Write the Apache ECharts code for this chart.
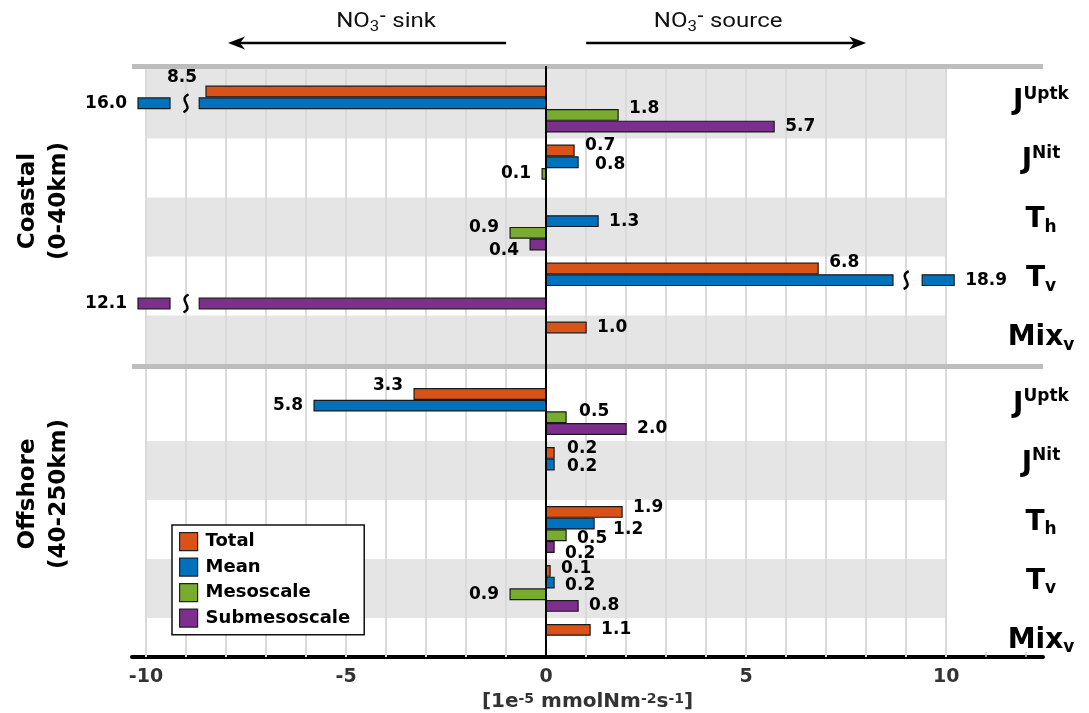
<!DOCTYPE html>
<html>
<head>
<meta charset="utf-8">
<title>NO3 budget terms</title>
<script src="https://cdn.jsdelivr.net/npm/echarts@6/dist/echarts.min.js"></script>
<style>
  html, body { margin: 0; padding: 0; background: #fff; }
  #chart { width: 1089px; height: 713px; }
</style>
</head>
<body>
<div id="chart"></div>
<script>
const components = ['Total', 'Mean', 'Mesoscale', 'Submesoscale']
const terms = ['J^Uptk', 'J^Nit', 'T_h', 'T_v', 'Mix_v']

// values in 1e-5 mmolN m-2 s-1, null = no bar drawn
const coastalTotal = [-8.5, 0.7, null, 6.8, 1.0]
const coastalMean = [-16.0, 0.8, 1.3, 18.9, null]
const coastalMeso = [1.8, -0.1, -0.9, null, null]
const coastalSubmeso = [5.7, null, -0.4, -12.1, null]

const offshoreTotal = [-3.3, 0.2, 1.9, 0.1, 1.1]
const offshoreMean = [-5.8, 0.2, 1.2, 0.2, null]
const offshoreMeso = [0.5, null, 0.5, -0.9, null]
const offshoreSubmeso = [2.0, null, 0.2, 0.8, null]

const xTickValues = [-10, -5, 0, 5, 10]

const colors = ['#D95319', '#0072BD', '#77AC30', '#7E2F8E']
const font = 'DejaVu Sans'

// axis layout, in axis units
const xMin = -10.35
const xMax = 12.42
const yMin = -0.73
const yMax = 9.29
const panelGap = 0.127
const panelSep = 4.36
const slotSize = 0.198
const axisLimit = 10
const breakAt = 8.67
const squiggleAt = 9.0
const stubFrom = 9.4
const stubTo = 10.2
const labelGap = 11

// hand placement of some value labels (series,group) -> [dx, dy] px
const labelNudge = {
  '0,0': [2, -14],
  '2,0': [0, -6],
  '0,1': [0, -5],
  '1,1': [6, 2],
  '2,2': [0, -5],
  '3,2': [0, 6],
  '0,3': [0, -6],
  '0,5': [0, -8],
  '2,5': [2, -6],
  '0,6': [2, -4],
  '1,6': [2, 2],
  '0,7': [0, -4],
  '1,7': [8, 6],
  '2,7': [0, 3],
  '3,7': [0, 7],
  '0,8': [0, -2],
  '1,8': [0, 3],
}

const coastal = [coastalTotal, coastalMean, coastalMeso, coastalSubmeso]
const offshore = [offshoreTotal, offshoreMean, offshoreMeso, offshoreSubmeso]

const groupPos = (g) => (g < 5 ? g : g + panelGap)
const allPos = Array.from({ length: 10 }, (_, g) => groupPos(g))

const termRich = (t) => {
  if (t.includes('^')) {
    const [a, b] = t.split('^')
    return `{m|${a}}{sup|${b}}`
  }
  const [a, b] = t.split('_')
  return `{m|${a}}{sub|${b}}`
}

const makeRender = (k) => (params, api) => {
  const v = api.value(0)
  const pos = api.value(1)
  const g = api.value(2)
  const base = api.coord([0, pos])
  const slot = api.size([0, slotSize])[1]
  const cy = base[1] + (k - 1.5) * slot
  const h = slot - 1
  const sign = v < 0 ? -1 : 1
  const barStyle = { fill: colors[k], stroke: '#1a1a1a', lineWidth: 1.2 }
  const rect = (xa, xb) => ({
    type: 'rect',
    shape: { x: Math.min(xa, xb), y: cy - h / 2, width: Math.abs(xb - xa), height: h },
    style: barStyle,
  })
  const children = []
  let end
  if (Math.abs(v) <= axisLimit) {
    end = api.coord([v, pos])[0]
    children.push(rect(base[0], end))
  } else {
    // broken bar: main part, squiggle, short stub
    children.push(rect(base[0], api.coord([sign * breakAt, pos])[0]))
    const sx = api.coord([sign * squiggleAt, pos])[0]
    children.push({
      type: 'bezierCurve',
      z2: 10,
      shape: {
        x1: sx + 2.5, y1: cy - 9,
        cpx1: sx - 9, cpy1: cy - 3,
        cpx2: sx + 9, cpy2: cy + 3,
        x2: sx - 2.5, y2: cy + 9,
      },
      style: { stroke: '#000', lineWidth: 2.4, fill: 'none' },
    })
    const s0 = api.coord([sign * stubFrom, pos])[0]
    end = api.coord([sign * stubTo, pos])[0]
    children.push(rect(s0, end))
  }
  const nudge = labelNudge[k + ',' + g] || [0, 0]
  children.push({
    type: 'text',
    x: end + sign * labelGap + nudge[0],
    y: cy + nudge[1],
    style: {
      text: Math.abs(v).toFixed(1),
      fontSize: 17,
      fontWeight: 'bold',
      fontFamily: font,
      fill: '#000',
      align: sign > 0 ? 'left' : 'right',
      verticalAlign: 'middle',
    },
  })
  return { type: 'group', children }
}

const barSeries = components.map((name, k) => {
  const data = []
  ;[coastal[k], offshore[k]].forEach((arr, p) => {
    arr.forEach((v, i) => {
      if (v === null) return
      const g = p * 5 + i
      data.push([v, groupPos(g), g])
    })
  })
  return {
    name,
    type: 'custom',
    z: 3,
    itemStyle: { color: colors[k], borderColor: '#1a1a1a', borderWidth: 1 },
    encode: { x: 0, y: 1 },
    renderItem: makeRender(k),
    data,
  }
})

const grayGroups = [0, 2, 4, 6, 8]
const bandData = grayGroups.map((g) => {
  let lo = groupPos(g) - 0.5
  let hi = groupPos(g) + 0.5
  if (g === 0) lo = yMin
  if (g === 4) hi = panelSep
  return [{ xAxis: -10, yAxis: lo }, { xAxis: 10, yAxis: hi }]
})

const gridLines = []
for (let x = -10; x <= 10; x++) gridLines.push({ xAxis: x })

const minorTicks = []
for (let x = -10; x <= 12; x++) minorTicks.push(x)

const chart = echarts.init(document.getElementById('chart'))

chart.setOption({
  animation: false,
  backgroundColor: '#fff',
  grid: { left: 132, right: 46, top: 66, bottom: 56, outerBoundsMode: 'none', containLabel: false },
  xAxis: {
    type: 'value',
    min: xMin,
    max: xMax,
    axisLine: { onZero: false, lineStyle: { color: '#000', width: 4 } },
    axisTick: {
      show: true,
      inside: true,
      length: 5,
      customValues: minorTicks,
      lineStyle: { color: '#c8c8c8', width: 1.5 },
    },
    splitLine: { show: false },
    axisLabel: {
      customValues: xTickValues,
      fontSize: 19,
      fontWeight: 'bold',
      fontFamily: font,
      color: '#333',
      margin: 11,
    },
    name: '[1e{sup|-5} mmolNm{sup|-2}s{sup|-1}]',
    nameLocation: 'middle',
    nameGap: 34,
    nameTextStyle: {
      fontSize: 20,
      fontWeight: 'bold',
      fontFamily: font,
      color: '#333',
      rich: {
        sup: { fontSize: 14, fontWeight: 'bold', fontFamily: font, color: '#333', lineHeight: 16, verticalAlign: 'top' },
      },
    },
  },
  yAxis: {
    type: 'value',
    min: yMin,
    max: yMax,
    inverse: true,
    position: 'right',
    axisLine: { show: false },
    axisTick: { show: false },
    splitLine: { show: false },
    axisLabel: {
      customValues: allPos,
      margin: -2,
      align: 'center',
      padding: [0, 0, 14, 0],
      formatter: (val) => {
        const g = allPos.findIndex((p) => Math.abs(p - val) < 1e-6)
        return g < 0 ? '' : termRich(terms[g % 5])
      },
      rich: {
        m: { fontSize: 28, fontWeight: 'bold', fontFamily: font, color: '#000', lineHeight: 32, verticalAlign: 'middle' },
        sup: { fontSize: 17, fontWeight: 'bold', fontFamily: font, color: '#000', lineHeight: 23, verticalAlign: 'top' },
        sub: { fontSize: 17, fontWeight: 'bold', fontFamily: font, color: '#000', lineHeight: 10, verticalAlign: 'bottom' },
      },
    },
  },
  legend: {
    data: components,
    orient: 'vertical',
    left: 172,
    top: 525,
    icon: 'rect',
    itemWidth: 18,
    itemHeight: 18,
    itemGap: 6.3,
    padding: [7, 14, 7, 7],
    backgroundColor: '#fff',
    borderColor: '#111',
    borderWidth: 1.5,
    selectedMode: false,
    itemStyle: { borderColor: '#222', borderWidth: 1.2 },
    textStyle: { fontSize: 18, fontWeight: 'bold', fontFamily: font, color: '#000', padding: [0, 0, 0, 3] },
  },
  series: [
    {
      name: 'background',
      type: 'custom',
      z: 1,
      silent: true,
      renderItem: () => null,
      data: [[0, 0]],
      markArea: {
        silent: true,
        z: 1,
        itemStyle: { color: '#e5e5e5' },
        data: bandData,
      },
      markLine: {
        silent: true,
        z: 2,
        symbol: ['none', 'none'],
        label: { show: false },
        lineStyle: { color: '#dadada', width: 2, type: 'solid' },
        data: gridLines,
      },
    },
    ...barSeries,
    {
      name: 'frame',
      type: 'custom',
      z: 5,
      silent: true,
      renderItem: () => null,
      data: [[0, 0]],
      markLine: {
        silent: true,
        z: 5,
        symbol: ['none', 'none'],
        label: { show: false },
        data: [
          { yAxis: yMin, lineStyle: { color: '#bdbdbd', width: 5, type: 'solid' } },
          { yAxis: panelSep, lineStyle: { color: '#bdbdbd', width: 5, type: 'solid' } },
          { xAxis: 0, lineStyle: { color: '#000', width: 2, type: 'solid' } },
        ],
      },
    },
  ],
})

// annotations above the plot and panel titles on the left
const px = (x) => chart.convertToPixel({ xAxisIndex: 0 }, x)
const arrowY = 43
const titleFont = 'Roboto'
const titleRich = {
  a: { fontSize: 20, fontFamily: titleFont, fill: '#111', lineHeight: 24, verticalAlign: 'middle' },
  b: { fontSize: 14, fontFamily: titleFont, fill: '#111', lineHeight: 12, verticalAlign: 'bottom' },
  c: { fontSize: 15, fontFamily: titleFont, fontWeight: 'bold', fill: '#111', lineHeight: 14, verticalAlign: 'top' },
}
const arrow = (from, to) => {
  const x1 = px(from)
  const x2 = px(to)
  const d = Math.sign(x2 - x1)
  return [
    { type: 'line', shape: { x1, y1: arrowY, x2: x2 - d * 10, y2: arrowY }, style: { stroke: '#000', lineWidth: 2.5 } },
    {
      type: 'polygon',
      shape: { points: [[x2, arrowY], [x2 - d * 17, arrowY - 6.5], [x2 - d * 12, arrowY], [x2 - d * 17, arrowY + 6.5]] },
      style: { fill: '#000' },
    },
  ]
}
const topTitle = (text, at) => ({
  type: 'text',
  x: px(at),
  y: 22,
  scaleX: 1.2,
  style: {
    text,
    rich: titleRich,
    fontSize: 20,
    fontFamily: titleFont,
    fill: '#111',
    align: 'center',
    verticalAlign: 'middle',
  },
})
const panelTitle = (text, y) => ({
  type: 'text',
  x: 44,
  y,
  rotation: Math.PI / 2,
  style: {
    text,
    fontSize: 23,
    fontWeight: 'bold',
    fontFamily: font,
    fill: '#000',
    align: 'center',
    verticalAlign: 'middle',
    lineHeight: 31,
  },
})

chart.setOption({
  graphic: [
    ...arrow(-1, -7.95),
    ...arrow(1, 8.0),
    topTitle('{a|NO}{b|3}{c|-}{a| sink}', -4.0),
    topTitle('{a|NO}{b|3}{c|-}{a| source}', 4.3),
    panelTitle('Coastal\n(0-40km)', 201),
    panelTitle('Offshore\n(40-250km)', 494),
  ],
})
</script>
</body>
</html>
